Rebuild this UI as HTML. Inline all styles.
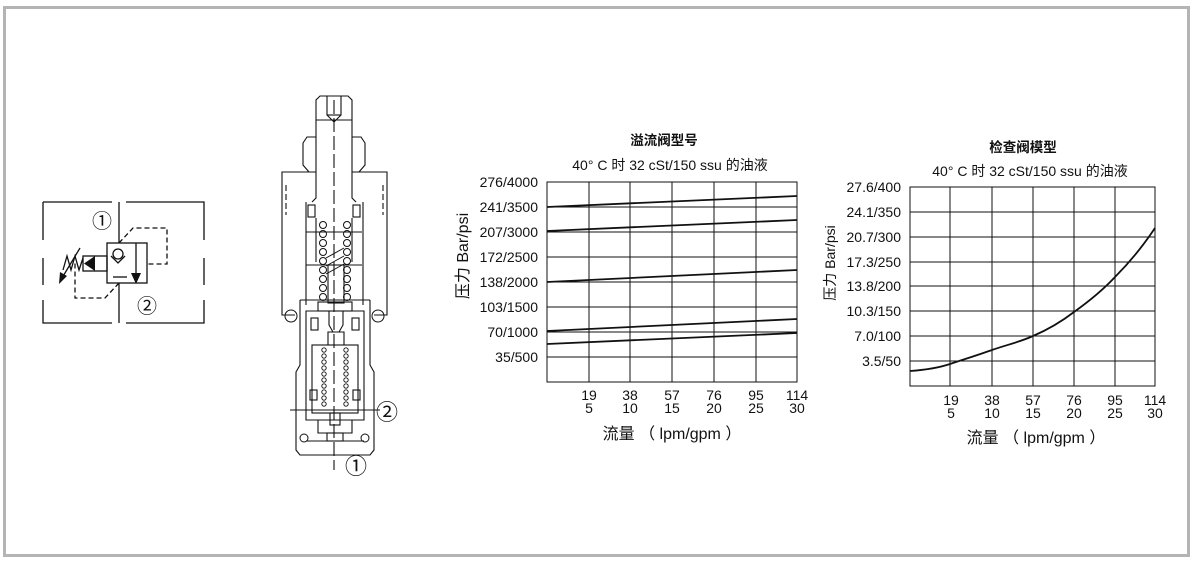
<!DOCTYPE html>
<html><head><meta charset="utf-8"><style>
html,body{margin:0;padding:0;background:#fff;}
body{width:1195px;height:573px;overflow:hidden;}
svg text{font-family:"Liberation Sans","Noto Sans CJK SC",sans-serif;fill:#111;}
</style></head><body>
<svg width="1195" height="573" viewBox="0 0 1195 573" xmlns="http://www.w3.org/2000/svg">
<rect x="4.5" y="7.5" width="1184" height="548" fill="none" stroke="#b4b4b4" stroke-width="3"/>

<!-- hydraulic symbol -->
<g fill="none" stroke="#111" stroke-width="1.3">
<path d="M43 202H112M126 202H204V240M204 258V285M204 300V323H126M112 323H43V300M43 285V258M43 240V202"/>
<line x1="119" y1="202" x2="119" y2="243"/><line x1="119" y1="283" x2="119" y2="323"/>
<rect x="107" y="243" width="40" height="40"/>
<circle cx="118" cy="254" r="5"/>
<path d="M111 256L118 263L125 256"/>
<line x1="136" y1="243" x2="136" y2="273"/>
<line x1="113" y1="277" x2="127" y2="277"/>
<path d="M119 243L133 228H167V264H147" stroke-dasharray="5,3"/>
<path d="M119 283L105 298H75V262" stroke-dasharray="5,3"/>
<rect x="83" y="256" width="24" height="15"/>
<path d="M83 258L79 270L75 256L71 270L67 256L63 270"/>
<line x1="80" y1="248" x2="62" y2="278"/>
</g>
<polygon points="131,273 141,273 136,284" fill="#111"/>
<polygon points="95,256 95,271 84,263.5" fill="#111"/>
<polygon points="59,284 60,272 67,276" fill="#111"/>
<text x="102" y="228" font-size="20" text-anchor="middle">①</text>
<text x="147" y="313" font-size="20" text-anchor="middle">②</text>

<!-- section view -->
<g fill="none" stroke="#111" stroke-width="1.1">
<path d="M316 120V100L320 96H348L352 100V120Z"/>
<path d="M327 96V115L334 122L341 115V96"/>
<line x1="327" y1="115" x2="341" y2="115"/>
<path d="M316 120V198L312 202M352 120V198L356 202"/>
<path d="M316 137H307L303 143V165L309 172H282L282 180V315H295M352 137H361L365 143V165L359 172H387V315H374"/>
<path d="M309 172H316M352 172H359"/>
<path d="M286 185V215M383 185V215" stroke-dasharray="6,3"/>
<path d="M306 202V305M363 202V305"/>
<path d="M306 232H362M306 265H362"/>
<rect x="308" y="205" width="7" height="12"/><rect x="353" y="205" width="7" height="12"/>
<rect x="328" y="265" width="16" height="38"/>
<path d="M316 218V262M352 218V262"/>
<rect x="318" y="302" width="34" height="9"/>
<path d="M329 311V325L333 332H339L343 325V311"/>
<path d="M328 332H344V345H328Z"/>
<path d="M300 300H370M300 300V365L296 372V450L300 455H370L374 450V372L370 365V300"/>
<path d="M306 311H364V420H306Z"/>
<rect x="312" y="345" width="46" height="68"/>
<rect x="311" y="318" width="7" height="12"/><rect x="352" y="318" width="7" height="12"/>
<rect x="310" y="390" width="7" height="10"/><rect x="353" y="390" width="7" height="10"/>
<rect x="330" y="413" width="10" height="12"/>
<path d="M318 420V433H352V420"/>
<rect x="327" y="433" width="16" height="8"/>
<path d="M306 441H364"/>
<path d="M290 410H380"/>
<path d="M334 100V470" stroke-dasharray="14,4"/>
</g>
<g fill="none" stroke="#111" stroke-width="1">
<circle cx="323" cy="225" r="3.5"/><circle cx="323" cy="234" r="3.5"/><circle cx="323" cy="243" r="3.5"/><circle cx="323" cy="252" r="3.5"/><circle cx="323" cy="261" r="3.5"/><circle cx="323" cy="270" r="3.5"/><circle cx="323" cy="279" r="3.5"/><circle cx="323" cy="288" r="3.5"/><circle cx="323" cy="297" r="3.5"/>
<circle cx="347" cy="225" r="3.5"/><circle cx="347" cy="234" r="3.5"/><circle cx="347" cy="243" r="3.5"/><circle cx="347" cy="252" r="3.5"/><circle cx="347" cy="261" r="3.5"/><circle cx="347" cy="270" r="3.5"/><circle cx="347" cy="279" r="3.5"/><circle cx="347" cy="288" r="3.5"/><circle cx="347" cy="297" r="3.5"/>
<path d="M326 258L344 248M326 266L344 256M326 274L344 264"/>
<circle cx="291" cy="316" r="6"/><circle cx="378" cy="316" r="6"/>
<circle cx="304" cy="438" r="4"/><circle cx="365" cy="438" r="4"/>
</g>
<g fill="none" stroke="#111" stroke-width="0.9">
<circle cx="324" cy="350" r="2.2"/><circle cx="324" cy="356" r="2.2"/><circle cx="324" cy="362" r="2.2"/><circle cx="324" cy="368" r="2.2"/><circle cx="324" cy="374" r="2.2"/><circle cx="324" cy="380" r="2.2"/><circle cx="324" cy="386" r="2.2"/><circle cx="324" cy="392" r="2.2"/><circle cx="324" cy="398" r="2.2"/><circle cx="324" cy="404" r="2.2"/>
<circle cx="346" cy="350" r="2.2"/><circle cx="346" cy="356" r="2.2"/><circle cx="346" cy="362" r="2.2"/><circle cx="346" cy="368" r="2.2"/><circle cx="346" cy="374" r="2.2"/><circle cx="346" cy="380" r="2.2"/><circle cx="346" cy="386" r="2.2"/><circle cx="346" cy="392" r="2.2"/><circle cx="346" cy="398" r="2.2"/><circle cx="346" cy="404" r="2.2"/>
</g>
<text x="387" y="420" font-size="22" text-anchor="middle">②</text>
<text x="356" y="474" font-size="22" text-anchor="middle">①</text>

<!-- chart 1 -->
<g stroke="#111" stroke-width="1" fill="none">
<rect x="547" y="182" width="250" height="200"/>
<path d="M589 182V382M630 182V382M672 182V382M714 182V382M756 182V382"/>
<path d="M547 207H797M547 232H797M547 257H797M547 282H797M547 307H797M547 332H797M547 357H797"/>
</g>
<g stroke="#111" stroke-width="1.8">
<line x1="547" y1="207" x2="797" y2="196"/>
<line x1="547" y1="231" x2="797" y2="220"/>
<line x1="547" y1="282" x2="797" y2="270"/>
<line x1="547" y1="331" x2="797" y2="319"/>
<line x1="547" y1="344" x2="797" y2="333"/>
</g>
<g font-size="14" text-anchor="end">
<text x="538" y="187">276/4000</text><text x="538" y="212">241/3500</text><text x="538" y="237">207/3000</text><text x="538" y="262">172/2500</text><text x="538" y="287">138/2000</text><text x="538" y="312">103/1500</text><text x="538" y="337">70/1000</text><text x="538" y="362">35/500</text>
</g>
<g font-size="14" text-anchor="middle">
<text x="589" y="400">19</text><text x="630" y="400">38</text><text x="672" y="400">57</text><text x="714" y="400">76</text><text x="756" y="400">95</text><text x="797" y="400">114</text>
<text x="589" y="413">5</text><text x="630" y="413">10</text><text x="672" y="413">15</text><text x="714" y="413">20</text><text x="756" y="413">25</text><text x="797" y="413">30</text>
</g>
<text x="664" y="145" font-size="13.5" font-weight="bold" text-anchor="middle">溢流阀型号</text>
<text x="670" y="170" font-size="14" text-anchor="middle">40°  C 时 32 cSt/150 ssu 的油液</text>
<text x="672" y="439" font-size="16" text-anchor="middle">流量 （ lpm/gpm ）</text>
<text transform="translate(468,256) rotate(-90)" font-size="16" text-anchor="middle">压力 Bar/psi</text>

<!-- chart 2 -->
<g stroke="#111" stroke-width="1" fill="none">
<rect x="910" y="187" width="245" height="199"/>
<path d="M950 187V386M992 187V386M1033 187V386M1074 187V386M1115 187V386"/>
<path d="M910 212H1155M910 237H1155M910 262H1155M910 286H1155M910 311H1155M910 336H1155M910 361H1155"/>
</g>
<path d="M910 371C925 370 938 368 950 364C965 359 978 355 992 350C1006 345 1020 342 1033 336C1047 330 1061 322 1074 312C1088 302 1102 291 1115 277C1130 262 1143 246 1155 228" stroke="#111" stroke-width="1.8" fill="none"/>
<g font-size="14" text-anchor="end">
<text x="901" y="192">27.6/400</text><text x="901" y="217">24.1/350</text><text x="901" y="242">20.7/300</text><text x="901" y="267">17.3/250</text><text x="901" y="291">13.8/200</text><text x="901" y="316">10.3/150</text><text x="901" y="341">7.0/100</text><text x="901" y="366">3.5/50</text>
</g>
<g font-size="14" text-anchor="middle">
<text x="951" y="405">19</text><text x="992" y="405">38</text><text x="1033" y="405">57</text><text x="1074" y="405">76</text><text x="1115" y="405">95</text><text x="1155" y="405">114</text>
<text x="951" y="418">5</text><text x="992" y="418">10</text><text x="1033" y="418">15</text><text x="1074" y="418">20</text><text x="1115" y="418">25</text><text x="1155" y="418">30</text>
</g>
<text x="1023" y="152" font-size="13.5" font-weight="bold" text-anchor="middle">检查阀模型</text>
<text x="1030" y="176" font-size="14" text-anchor="middle">40°  C 时 32 cSt/150 ssu 的油液</text>
<text x="1036" y="443" font-size="16" text-anchor="middle">流量 （ lpm/gpm ）</text>
<text transform="translate(835,263) rotate(-90)" font-size="14" text-anchor="middle">压力 Bar/psi</text>
</svg>
</body></html>
